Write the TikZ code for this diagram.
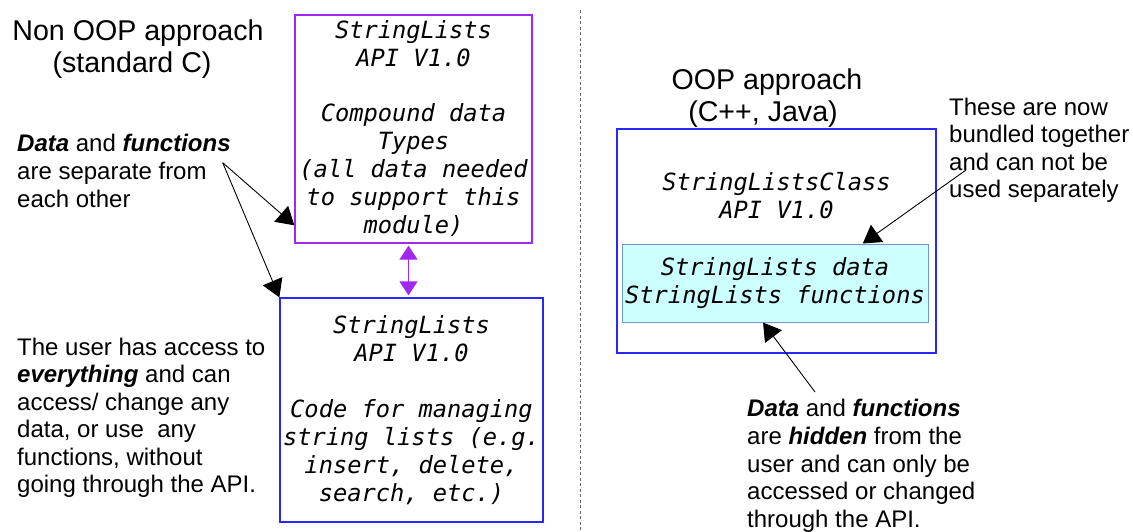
\documentclass[tikz,border=0pt]{standalone}
\usepackage{fontspec}
\setmainfont{Liberation Sans}
\newfontfamily\codefont{DejaVu Sans Mono}
\usetikzlibrary{arrows.meta,calc}
\definecolor{violetline}{RGB}{160,40,240}
\definecolor{blueline}{RGB}{40,40,250}
\definecolor{cyanfill}{RGB}{204,255,255}
\definecolor{cyanline}{RGB}{114,150,200}
\begin{document}
\begin{tikzpicture}[x=1pt, y=-1pt,
    codebox/.style={draw, line width=1.3pt, inner sep=0pt, align=center, font=\codefont\itshape\fontsize{23.7}{28}\selectfont},
    note/.style={anchor=north west, inner sep=0pt, align=left, font=\fontsize{24}{27.6}\selectfont},
    heading/.style={anchor=north, inner sep=0pt, align=center, font=\fontsize{28.6}{32}\selectfont},
    pointer/.style={-{Triangle[length=17.5pt,width=21pt]}, line width=0.9pt}]
      \useasboundingbox (0,0) rectangle (1133,531) ;
      % left half
      \node[heading] (nonoop) at (138,20) {Non OOP approach\\(standard C)\hspace*{12pt}} ;
      \node[codebox, draw=violetline, minimum width=237pt, minimum height=228pt] (data) at (413.5,129)
        {StringLists\\API V1.0\\[27pt]Compound data\\Types\\(all data needed\\to support this\\module)} ;
      \node[codebox, draw=blueline, minimum width=263pt, minimum height=224pt] (code) at (411.5,410)
        {StringLists\\API V1.0\\[28pt]Code for managing\\string lists (e.g.\\insert, delete,\\search, etc.)} ;
      \node[note] (sep) at (17,134.4) {\textbf{\textit{Data}} and \textbf{\textit{functions}}\\are separate from\\each other} ;
      \node[note] (access) at (17,337.4) {The user has access to\\\textbf{\textit{everything}} and can\\access/ change any\\data, or use~ any\\functions, without\\going through the API.} ;
      \coordinate (sepfrom) at (222.7,162.7) ;
      \draw[pointer] (sepfrom) -- ($(data.south west)!0.08!(data.north west)$) ;
      \draw[pointer] (sepfrom) -- (code.north west) ;
      \draw[{Triangle[length=14pt,width=18pt]}-{Triangle[length=14pt,width=18pt]}, violetline, line width=1.3pt, shorten <=2pt, shorten >=2pt]
        ([xshift=-5pt]data.south) -- ([xshift=-5pt]data.south |- code.north) ;
      % divider
      \coordinate (divtop) at (580,10) ;
      \coordinate (divbot) at (580,531) ;
      \draw[gray!80!black, line width=0.8pt, dash pattern=on 3pt off 2.5pt] (divtop) -- (divbot) ;
      % right half
      \node[heading] (oop) at (767,69) {OOP approach\\(C++, Java)\hspace*{8pt}} ;
      \node[draw=blueline, line width=1.3pt, minimum width=319pt, minimum height=224pt] (cls) at (776.5,241) {} ;
      \node[codebox, draw=none] (clsname) at (776.5,195.3) {StringListsClass\\API V1.0} ;
      \node[codebox, draw=cyanline, fill=cyanfill, line width=1pt, minimum width=306pt, minimum height=78pt] (members) at (775,283)
        {StringLists data\\StringLists functions} ;
      \node[note] (bundled) at (949,97.6) {These are now\\bundled together\\and can not be\\used separately} ;
      \node[note] (hidden) at (747,399.4) {\textbf{\textit{Data}} and \textbf{\textit{functions}}\\are \textbf{\textit{hidden}} from the\\user and can only be\\accessed or changed\\through the API.} ;
      \coordinate (bundledfrom) at (966,170) ;
      \coordinate (hiddenfrom) at (815,392) ;
      \draw[pointer] (bundledfrom) -- ($(members.north west)!0.786!(members.north east)$) ;
      \draw[pointer] (hiddenfrom) -- ($(members.south west)!0.461!(members.south east)$) ;
    \end{tikzpicture}
\end{document}
